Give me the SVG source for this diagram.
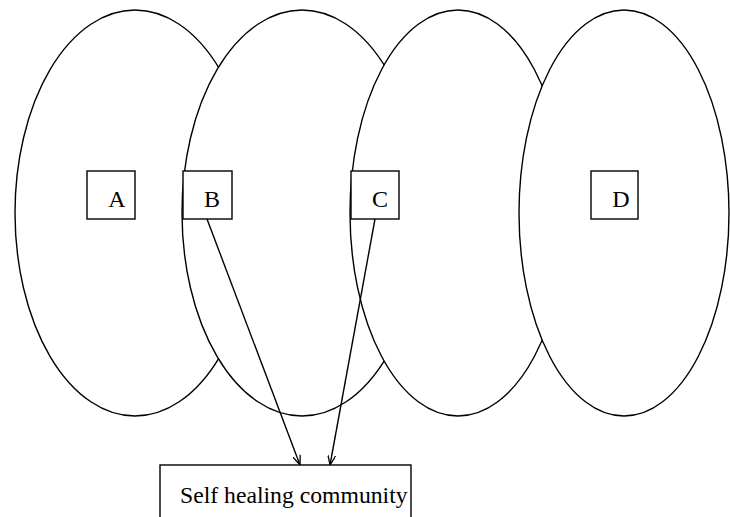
<svg xmlns="http://www.w3.org/2000/svg" width="730" height="517" viewBox="0 0 730 517">
  <style>
    .zone { fill: #ffffff; stroke: #000000; stroke-width: 1.4; }
    .box { fill: #ffffff; stroke: #000000; stroke-width: 1.4; }
    .label { font-family: "Liberation Serif", "Times New Roman", serif; font-size: 24px; fill: #000000; text-anchor: middle; }
    .caption { font-family: "Liberation Serif", "Times New Roman", serif; font-size: 23.7px; fill: #000000; }
    .link { fill: none; stroke: #000000; stroke-width: 1.4; }
  </style>
  <defs>
    <marker id="arrow" viewBox="0 0 10 8" refX="10" refY="4" markerWidth="10" markerHeight="8" markerUnits="userSpaceOnUse" orient="auto">
      <path d="M0,0 L10,4 L0,8" fill="none" stroke="#000000" stroke-width="1.3"/>
    </marker>
  </defs>

  <!-- overlapping zones, each drawn over the previous one -->
  <g id="zone-a">
    <ellipse class="zone" cx="135" cy="213" rx="120" ry="203"/>
    <rect class="box" x="87" y="171" width="48" height="48"/>
    <text class="label" x="117" y="207">A</text>
  </g>
  <g id="zone-b">
    <ellipse class="zone" cx="302" cy="213" rx="120" ry="203"/>
    <rect class="box" x="183" y="171" width="49" height="48"/>
    <text class="label" x="212" y="207">B</text>
  </g>
  <g id="zone-c">
    <ellipse class="zone" cx="458" cy="213" rx="108" ry="203"/>
    <rect class="box" x="351" y="171" width="48" height="48"/>
    <text class="label" x="380" y="207">C</text>
  </g>
  <g id="zone-d">
    <ellipse class="zone" cx="624" cy="213" rx="105" ry="203"/>
    <rect class="box" x="591" y="171" width="47" height="48"/>
    <text class="label" x="621" y="207">D</text>
  </g>

  <g id="community">
    <rect class="box" x="160" y="465" width="251" height="60"/>
    <text class="caption" x="180" y="503">Self healing community</text>
  </g>

  <g id="connectors">
    <line class="link" x1="207" y1="219" x2="300" y2="465" marker-end="url(#arrow)"/>
    <line class="link" x1="375" y1="219" x2="330" y2="465" marker-end="url(#arrow)"/>
  </g>
</svg>
